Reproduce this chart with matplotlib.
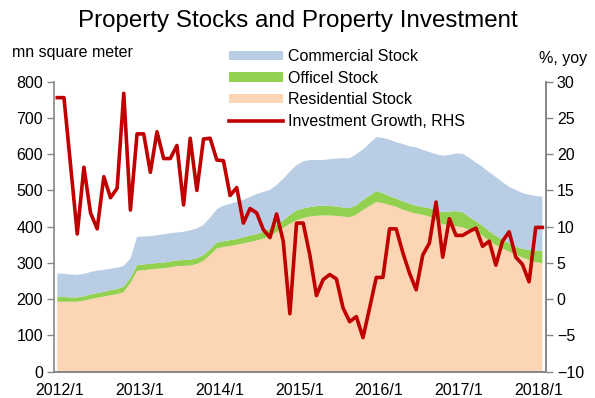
import matplotlib.pyplot as plt
from matplotlib.patches import Patch
from matplotlib.lines import Line2D
import numpy as np

plt.rcParams['font.family'] = ['Liberation Sans', 'DejaVu Sans']

# monthly data, 2012/1 .. 2018/2 (mn square meter for stocks, % yoy for investment)
residential = [193, 193, 193, 193, 196, 200, 204, 207, 211, 214, 220, 244,
               278, 280, 282, 284, 285, 288, 291, 292, 293, 297, 306, 322,
               340, 344, 347, 350, 354, 358, 362, 367, 374, 385, 396, 408,
               418, 424, 428, 430, 431, 431, 430, 428, 426, 433, 446, 457,
               468, 465, 460, 455, 447, 441, 436, 433, 428, 418, 407, 404,
               401, 398, 392, 386, 375, 360, 349, 340, 331, 322, 315, 308,
               302, 299]
office = [13, 13, 12, 12, 12, 13, 13, 13, 14, 14, 15, 14,
          16, 16, 16, 16, 16, 16, 16, 16, 16, 16, 16, 16,
          16, 16, 16, 16, 17, 18, 18, 19, 20, 21, 22, 24,
          27, 26, 26, 27, 27, 26, 26, 25, 25, 26, 28, 29,
          30, 28, 24, 23, 23, 23, 22, 21, 23, 28, 33, 38,
          42, 42, 35, 29, 28, 28, 26, 24, 23, 23, 24, 28,
          32, 34]
commercial = [65, 64, 63, 62, 62, 62, 62, 61, 59, 59, 57, 54,
              78, 77, 76, 76, 78, 78, 77, 78, 81, 82, 83, 87,
              92, 98, 100, 103, 103, 106, 110, 110, 108, 109, 114, 120,
              125, 130, 130, 127, 126, 129, 132, 136, 138, 141, 139, 144,
              149, 152, 156, 155, 158, 158, 161, 158, 155, 154, 156, 156,
              159, 161, 163, 162, 162, 162, 162, 159, 156, 156, 154, 152,
              151, 150]
invest_growth = [27.8, 27.8, 18.4, 9.0, 18.2, 11.9, 9.7, 16.9, 14.0, 15.3, 28.4, 12.3,
                 22.8, 22.8, 17.5, 23.1, 19.4, 19.4, 21.2, 13.0, 22.2, 15.0, 22.1, 22.2,
                 19.2, 19.1, 14.3, 15.4, 10.5, 12.5, 11.9, 9.6, 8.5, 11.75, 8.0, -2.0,
                 10.5, 10.5, 6.1, 0.5, 2.7, 3.4, 2.8, -1.2, -3.1, -2.4, -5.3, -1.2,
                 3.0, 3.0, 9.7, 9.7, 6.4, 3.6, 1.3, 6.1, 7.75, 13.4, 5.8, 11.1,
                 8.8, 8.8, 9.35, 9.8, 7.3, 8.0, 4.7, 8.0, 9.3, 5.8, 4.8, 2.4,
                 9.9, 9.9]
tick_labels = ['2012/1', '2013/1', '2014/1', '2015/1', '2016/1', '2017/1', '2018/1']

c_comm = '#B9CDE5'
c_office = '#92D050'
c_res = '#FCD5B5'
c_line = '#C00000'
c_axis = '#868686'

months = np.arange(len(residential))

fig = plt.figure(figsize=(5.95, 3.98), dpi=100)
ax = fig.add_axes([54 / 595, 1 - 371.7 / 398, (545.7 - 54) / 595, (371.7 - 81.7) / 398])

# stacked stock areas
ax.stackplot(months, residential, office, commercial,
             colors=[c_res, c_office, c_comm], linewidth=0)
ax.set_xlim(-0.5, 73.5)
ax.set_ylim(0, 800)
ax.set_yticks(range(0, 801, 100))
ax.set_xticks(months[::12] + 0.4)
ax.set_xticklabels(tick_labels)

# investment growth on the right axis
ax2 = ax.twinx()
ax2.plot(months, invest_growth, color=c_line, lw=2.6)
ax2.set_ylim(-10, 30)
ax2.set_yticks(range(-10, 31, 5))

for a in (ax, ax2):
    a.spines['top'].set_visible(False)
    for s in ('left', 'right', 'bottom'):
        a.spines[s].set_color(c_axis)
        a.spines[s].set_linewidth(1.2)
    a.tick_params(axis='y', direction='out', length=5, width=1, color=c_axis,
                  labelsize=11.5, pad=3)
ax.tick_params(axis='x', length=0, labelsize=11.5, pad=8)
ax2.spines['left'].set_visible(False)

fig.text(12 / 595, 1 - 52 / 398, 'mn square meter', fontsize=11.5, va='center', ha='left')
fig.text(587 / 595, 1 - 58 / 398, '%, yoy', fontsize=11.5, va='center', ha='right')
fig.text(0.5, 1 - 21 / 398, 'Property Stocks and Property Investment',
         fontsize=17.4, ha='center', va='center')

handles = [Patch(facecolor=c_comm, edgecolor='none'),
           Patch(facecolor=c_office, edgecolor='none'),
           Patch(facecolor=c_res, edgecolor='none'),
           Line2D([0], [0], color=c_line, lw=2.6)]
labels = ['Commercial Stock', 'Officel Stock', 'Residential Stock', 'Investment Growth, RHS']
fig.legend(handles, labels, loc='upper left', bbox_to_anchor=(229 / 595, 1 - 49 / 398),
           frameon=False, fontsize=11.5, handlelength=3.4, handleheight=0.5,
           handletextpad=0.3, labelspacing=0.42, borderpad=0, borderaxespad=0)

plt.savefig('out.png', dpi=100)
